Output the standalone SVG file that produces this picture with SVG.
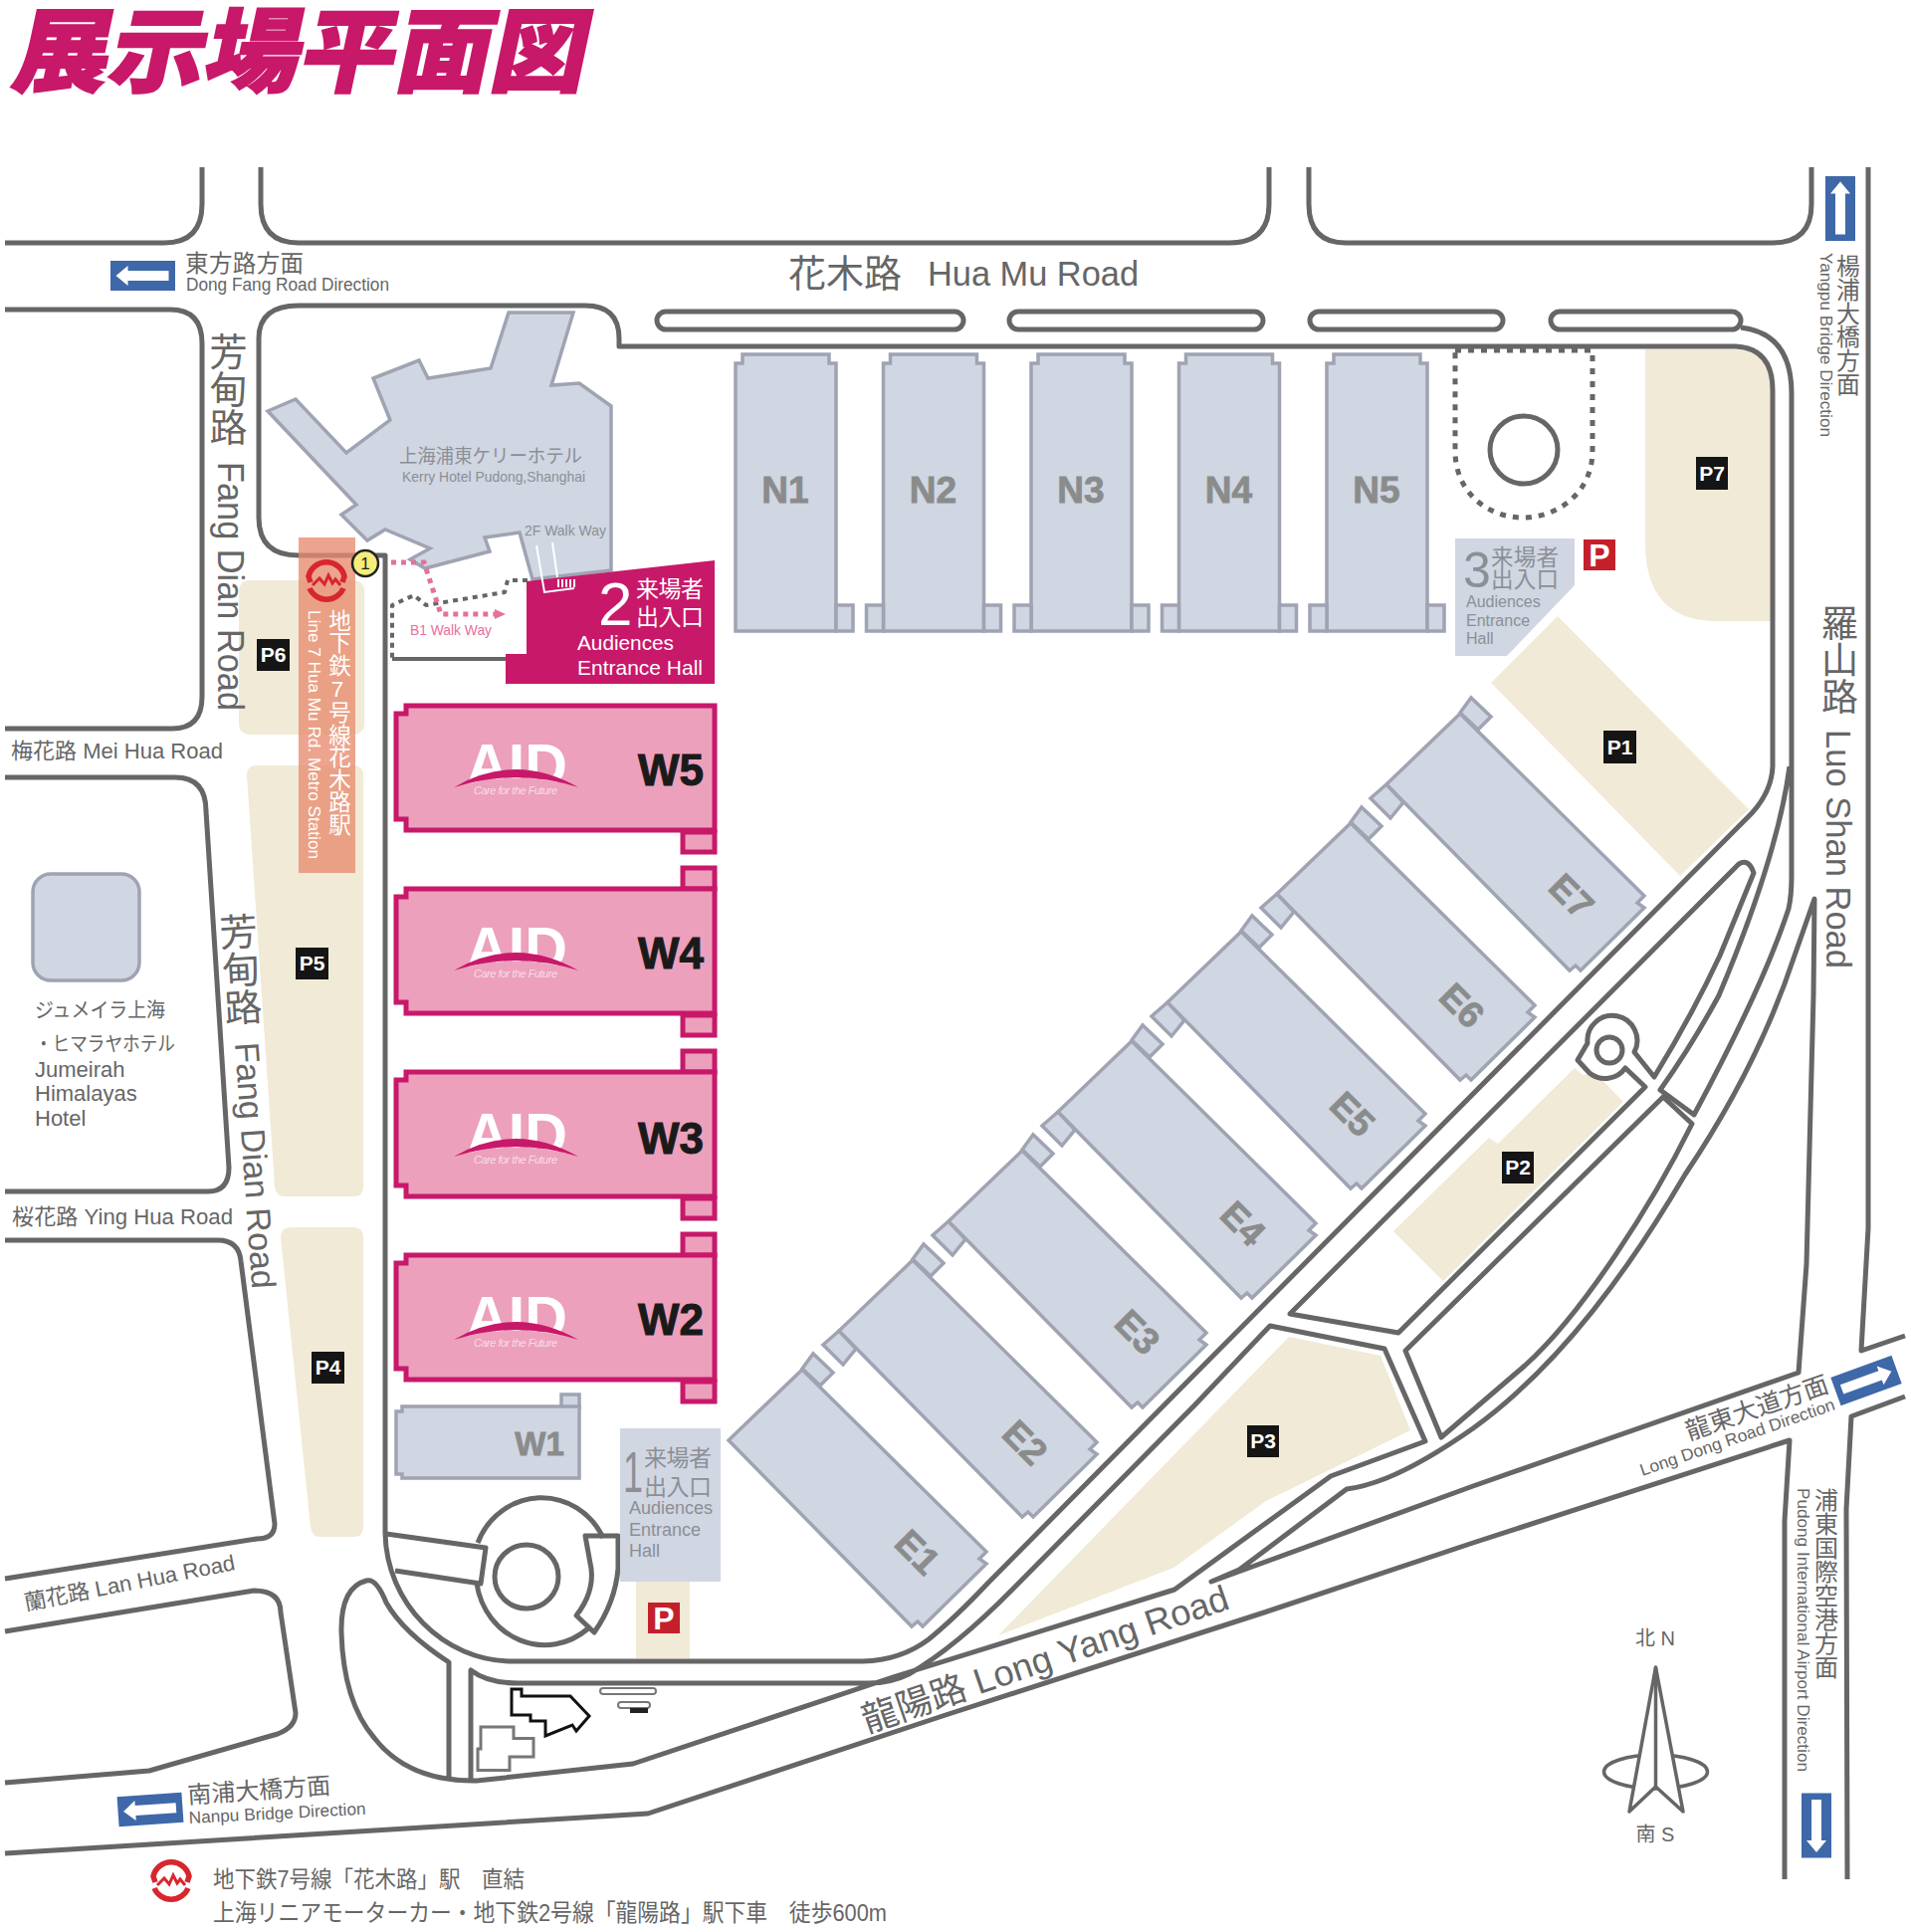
<svg xmlns="http://www.w3.org/2000/svg" width="1920" height="1941" viewBox="0 0 1920 1941">
<style>
text{font-family:"Liberation Sans","Noto Sans CJK JP",sans-serif;fill:#666}
.road{fill:none;stroke:#666;stroke-width:5;stroke-linejoin:round;stroke-linecap:butt}
.park{fill:#f0ead6}
.hall{fill:#d0d6e2;stroke:#9fa3b2;stroke-width:3.5;stroke-linejoin:miter}
.wh{fill:#eca0bc;stroke:#c8186a;stroke-width:5}
.hl{font-weight:700;fill:#8a8c8c;stroke:#8a8c8c;stroke-width:.8;font-size:37px;text-anchor:middle}
.wl{font-weight:700;fill:#1a1a1a;stroke:#1a1a1a;stroke-width:1;font-size:44px;text-anchor:middle}
.pb{fill:#151515}
.pt{fill:#fff;font-weight:700;font-size:21px;text-anchor:middle}
.pr{fill:#c4202c}
.prt{fill:#fff;font-weight:700;font-size:32px;text-anchor:middle}
.v{writing-mode:vertical-rl;text-orientation:upright}
.g{fill:#8c8f96}
.w{fill:#fff}
.blue{fill:#3e68a8}
.logo{fill:none;stroke:#d7262e;stroke-width:5.5;stroke-linejoin:miter}
</style>
<defs>
<path id="e-body" class="hall" d="M1467 717L1652 900L1645 907L1652 912L1588 975L1583 970L1577 975L1393 788Z"/>
<path id="e-tab-top" class="hall" d="M1467 716L1478 701L1498 720L1485 733Z"/>
<path id="e-tab-left" class="hall" d="M1393 788L1377 802L1397 822L1410 806Z"/>
<path id="n-body" class="hall" d="M739 634V365H746V356H833V365H840V634Z"/>
<rect id="n-tab-r" class="hall" x="840" y="608" width="17" height="26"/>
<rect id="n-tab-l" class="hall" x="722" y="608" width="17" height="26"/>
<path id="w-body" class="wh" d="M398 717H408V709H718V834H408V823H398Z"/>
<clipPath id="aidclip"><path d="M450 740H590V791H581Q518 772 456 791H450Z"/></clipPath>
<g id="aid">
<text x="468" y="790" font-size="62" font-weight="700" textLength="102" lengthAdjust="spacingAndGlyphs" clip-path="url(#aidclip)" style="fill:#fff">AID</text>
<path d="M456 791Q518 755 581 791Q518 771 456 791Z" fill="#c8186a"/>
<text x="518" y="798" font-size="11" font-style="italic" text-anchor="middle" textLength="84" style="fill:#f8dce8">Care for the Future</text>
</g>
<g id="arrow"><rect class="blue" x="-32.5" y="-15" width="65" height="30"/><path fill="#fff" d="M-26 -5H15V-10L27 0L15 10V5H-26Z"/></g>
<g id="metro"><path class="logo" d="M-16 1L-18 -5A18.500 18.500 0 0 1 18 -5L16 1M-17 7A18.500 18.500 0 0 0 17 7"/><path fill="none" stroke="#d7262e" stroke-width="3" d="M-14 4L-7 -3L-2 3L2 -6L6 2L9 -2L14 4"/></g>
</defs>

<g id="parking-areas">
<rect class="park" x="240" y="583" width="126" height="155" rx="10"/>
<path class="park" d="M258 769H355Q365 769 365 779V1192Q365 1202 355 1202H286Q277 1202 276 1192L248 779Q248 769 258 769Z"/>
<path class="park" d="M292 1233H355Q365 1233 365 1243V1534Q365 1544 355 1544H322Q313 1544 312 1534L282 1243Q282 1233 292 1233Z"/>
<path class="park" d="M1653 351H1745Q1781 351 1781 390V624H1725Q1653 624 1653 545Z"/>
<path class="park" d="M1565 619L1757 813L1688 880L1498 686Z"/>
<path class="park" d="M1582 1073L1590 1080L1603 1078L1631 1107L1450 1287L1400 1237L1496 1143L1505 1149Z"/>
<path class="park" d="M1295 1343L1387 1362L1417 1437L1272 1508L1179 1575L1003 1643Z"/>
<rect class="park" x="639" y="1589" width="54" height="77"/>
</g>

<g id="roads">
<path class="road" d="M203 168V205Q203 244 165 244H5"/>
<path class="road" d="M262 168V205Q262 244 300 244H1235Q1275 244 1275 205V168"/>
<path class="road" d="M1315 168V205Q1315 244 1352 244H1781Q1820 244 1820 205V168"/>
<rect class="road" x="660" y="313" width="308" height="18" rx="9"/>
<rect class="road" x="1014" y="313" width="255" height="18" rx="9"/>
<rect class="road" x="1316" y="313" width="194" height="18" rx="9"/>
<rect class="road" x="1558" y="313" width="191" height="18" rx="9"/>
<path class="road" d="M622 348H1744Q1781 350 1781 392V770Q1780 795 1760 817L1200 1381L993 1590Q960 1625 933 1647Q905 1668 867 1669H515C445 1669 388 1610 387 1540V558H300Q260 558 260 520V340Q260 307 300 307H588Q622 307 622 340Z"/>
<path class="road" d="M1749 329Q1800 335 1800 395V880Q1800 900 1797 913C1780 965 1745 1040 1702 1120L1668 1095Q1700 1050 1727 1000C1765 910 1790 830 1798 770"/>
<path class="road" d="M1296 1320L1747 868Q1757 862 1762 877L1728 960Q1700 1020 1662 1082L1642 1057A25 25 0 1 0 1595 1048L1585 1065L1597 1078A25 25 0 0 0 1633 1073L1653 1092L1405 1339Z"/>
<circle class="road" cx="1617" cy="1055" r="13"/>
<path class="road" d="M1671 1102L1700 1129C1660 1210 1590 1320 1532 1372L1448 1444L1412 1357Z"/>
<path class="road" d="M1823 903L1803 960C1770 1060 1720 1140 1693 1180C1640 1270 1570 1370 1480 1435Q1430 1470 1393 1485Q1370 1494 1353 1496L1245 1577L1217 1589L1480 1493L1807 1379L1815 1270L1822 1000Z"/>
<path class="road" d="M1877 168V1234L1870 1357L1914 1342"/>
<path class="road" d="M5 1862L651 1822L950 1723L1270 1620L1480 1550L1798 1447L1793 1528V1888"/>
<path class="road" d="M1856 1888L1855 1516L1860 1423L1914 1403"/>
<path class="road" d="M451 1785V1670Q405 1640 388 1610Q378 1585 368 1588Q342 1595 343 1640Q345 1710 376 1746Q410 1790 479 1789L636 1772L897 1685L1180 1597L1337 1483L1432 1448L1391 1355L1276 1332L1200 1412L1017 1597Q960 1655 913 1682Q895 1691 873 1691H521Q490 1691 473 1678V1789"/>
<path class="road" d="M5 311H171Q203 311 203 345V700Q203 732 173 732H5"/>
<path class="road" d="M5 781H176Q207 781 207 815L230 1173Q230 1197 209 1197H5"/>
<path class="road" d="M5 1246H219Q240 1246 242 1267L276 1531Q276 1546 258 1546L5 1586"/>
<path class="road" d="M5 1639L255 1598Q282 1598 282 1620L297 1721Q297 1735 279 1742L150 1779L5 1791"/>
<path class="road" d="M388 1541L488 1555L483 1591L397 1578"/>
<path class="road" d="M480 1550A69 72 0 0 1 606 1545M479 1591A69 73 0 0 0 591 1636"/>
<circle class="road" cx="529" cy="1584" r="32"/>
<path class="road" d="M588 1543H621V1576Q618 1610 597 1640L579 1623Q597 1600 594 1576Z"/>
<path class="road" stroke-dasharray="5 5" style="stroke-width:4" d="M530 583H510L507 595L428 608L416 598L394 608V662"/>
<path class="road" style="stroke-width:4" d="M394 662H508"/>
<path class="road" stroke-dasharray="6 7" d="M1462 352H1600V453C1600 495 1565 520 1530 520C1495 520 1462 495 1462 453Z"/>
<circle class="road" cx="1531" cy="452" r="34"/>
</g>

<g id="hotel-kerry">
<path class="hall" d="M511 314H576L554 387L582 385L614 408V573L535 582L522 535L487 540L492 554L427 571L412 562L432 551L387 532L369 543L343 517L358 507L269 413L297 401L348 455L392 422L375 380L421 362L430 380L493 370Z"/>
<text class="g" x="401" y="465" font-size="19" textLength="184" lengthAdjust="spacingAndGlyphs">上海浦東ケリーホテル</text>
<text class="g" x="404" y="484" font-size="15" textLength="184" lengthAdjust="spacingAndGlyphs">Kerry Hotel Pudong,Shanghai</text>
<text class="g" x="527" y="538" font-size="14.500" textLength="82" lengthAdjust="spacingAndGlyphs">2F Walk Way</text>
</g>

<g id="N1"><use href="#n-body"/><use href="#n-tab-r"/><text class="hl" x="789" y="505">N1</text></g>
<g id="N2"><g transform="translate(148.500 0)"><use href="#n-body"/><use href="#n-tab-r"/><use href="#n-tab-l"/><text class="hl" x="789" y="505">N2</text></g></g>
<g id="N3"><g transform="translate(297 0)"><use href="#n-body"/><use href="#n-tab-r"/><use href="#n-tab-l"/><text class="hl" x="789" y="505">N3</text></g></g>
<g id="N4"><g transform="translate(445.500 0)"><use href="#n-body"/><use href="#n-tab-r"/><use href="#n-tab-l"/><text class="hl" x="789" y="505">N4</text></g></g>
<g id="N5"><g transform="translate(594 0)"><use href="#n-body"/><use href="#n-tab-r"/><use href="#n-tab-l"/><text class="hl" x="789" y="505">N5</text></g></g>

<g id="E7"><use href="#e-tab-top"/><use href="#e-tab-left"/><use href="#e-body"/><text class="hl" x="1579" y="913" transform="rotate(45 1579 900)">E7</text></g>
<g id="E6" transform="translate(-110 110)"><use href="#e-tab-top"/><use href="#e-tab-left"/><use href="#e-body"/><text class="hl" x="1579" y="913" transform="rotate(45 1579 900)">E6</text></g>
<g id="E5" transform="translate(-220 219)"><use href="#e-tab-top"/><use href="#e-tab-left"/><use href="#e-body"/><text class="hl" x="1579" y="913" transform="rotate(45 1579 900)">E5</text></g>
<g id="E4" transform="translate(-330 329)"><use href="#e-tab-top"/><use href="#e-tab-left"/><use href="#e-body"/><text class="hl" x="1579" y="913" transform="rotate(45 1579 900)">E4</text></g>
<g id="E3" transform="translate(-440 439)"><use href="#e-tab-top"/><use href="#e-tab-left"/><use href="#e-body"/><text class="hl" x="1583" y="912" transform="rotate(45 1583 899)">E3</text></g>
<g id="E2" transform="translate(-550 549)"><use href="#e-tab-top"/><use href="#e-tab-left"/><use href="#e-body"/><text class="hl" x="1580" y="913" transform="rotate(45 1580 900)">E2</text></g>
<g id="E1" transform="translate(-661 659)"><use href="#e-tab-top"/><use href="#e-body"/><text class="hl" x="1583" y="913" transform="rotate(45 1583 900)">E1</text></g>

<g id="W5"><rect class="wh" x="686" y="836" width="32" height="20"/><use href="#w-body"/><use href="#aid"/><text class="wl" x="674" y="789">W5</text></g>
<g id="W4" transform="translate(0 184)"><rect class="wh" x="686" y="836" width="32" height="20"/><rect class="wh" x="686" y="688" width="32" height="21"/><use href="#w-body"/><use href="#aid"/><text class="wl" x="674" y="789">W4</text></g>
<g id="W3" transform="translate(0 368)"><rect class="wh" x="686" y="836" width="32" height="20"/><rect class="wh" x="686" y="688" width="32" height="21"/><use href="#w-body"/><use href="#aid" y="3"/><text class="wl" x="674" y="791">W3</text></g>
<g id="W2" transform="translate(0 552)"><rect class="wh" x="686" y="836" width="32" height="20"/><rect class="wh" x="686" y="688" width="32" height="21"/><use href="#w-body"/><use href="#aid" y="3"/><text class="wl" x="674" y="789">W2</text></g>
<g id="W1"><rect class="hall" x="564" y="1401" width="18" height="14"/><path class="hall" d="M398 1418H404V1413H582V1485H404V1481H398Z"/><text class="hl" x="542" y="1462" style="font-size:33px">W1</text></g>

<g id="jumeirah">
<rect class="hall" x="33" y="878" width="107" height="107" rx="18"/>
<text x="35" y="1022" font-size="20.500" textLength="131" lengthAdjust="spacingAndGlyphs">ジュメイラ上海</text>
<text x="35" y="1056" font-size="20.500" textLength="141" lengthAdjust="spacingAndGlyphs">・ヒマラヤホテル</text>
<text x="35" y="1082" font-size="22">Jumeirah</text>
<text x="35" y="1106" font-size="22">Himalayas</text>
<text x="35" y="1131" font-size="22">Hotel</text>
</g>

<g id="entrance-1">
<rect x="623" y="1435" width="101" height="154" fill="#d0d6e2"/>
<text class="g" x="626" y="1499" font-size="58" textLength="20" lengthAdjust="spacingAndGlyphs">1</text>
<text class="g" x="647" y="1473" font-size="23" textLength="68">来場者</text>
<text class="g" x="647" y="1502" font-size="23" textLength="68">出入口</text>
<text class="g" x="632" y="1521" font-size="18">Audiences</text>
<text class="g" x="632" y="1543" font-size="18">Entrance</text>
<text class="g" x="632" y="1564" font-size="18">Hall</text>
</g>
<g id="entrance-2">
<path d="M529 584L718 563V687H508V657H529Z" fill="#c8186a"/>
<g fill="none" stroke="#fff" stroke-width="2"><path d="M539 548L547 595L577 591M555 545L560 580"/><path d="M561 590V582M565 590V582M569 590V582M573 590V582M577 590V582"/></g>
<text class="w" x="601" y="628" font-size="62">2</text>
<text class="w" x="639" y="600" font-size="23" textLength="68">来場者</text>
<text class="w" x="639" y="628" font-size="23" textLength="68">出入口</text>
<text class="w" x="580" y="653" font-size="21" textLength="97" lengthAdjust="spacingAndGlyphs">Audiences</text>
<text class="w" x="580" y="678" font-size="21" textLength="126" lengthAdjust="spacingAndGlyphs">Entrance Hall</text>
</g>
<g id="entrance-3">
<path d="M1462 541H1582V588L1514 659H1462Z" fill="#d0d6e2"/>
<text class="g" x="1470" y="590" font-size="50">3</text>
<text class="g" x="1498" y="568" font-size="22.500" textLength="68">来場者</text>
<text class="g" x="1498" y="590" font-size="22.500" textLength="68">出入口</text>
<text class="g" x="1473" y="610" font-size="16">Audiences</text>
<text class="g" x="1473" y="629" font-size="16">Entrance</text>
<text class="g" x="1473" y="647" font-size="16">Hall</text>
</g>

<g id="walkway-b1">
<path d="M393 565H426L443 617H497" fill="none" stroke="#e76f9d" stroke-width="5" stroke-dasharray="5 5"/>
<path d="M497 612L508 617L497 622Z" fill="#e76f9d"/>
<text x="412" y="638" font-size="14.500" textLength="82" lengthAdjust="spacingAndGlyphs" style="fill:#e76f9d">B1 Walk Way</text>
</g>

<g id="metro-station">
<rect x="300" y="540" width="57" height="337" fill="#e88a6e" opacity=".78"/>
<use href="#metro" transform="translate(328 584)"/>
<text class="v w" x="339" y="612" font-size="22.500">地下鉄7号線花木路駅</text>
<text class="w" transform="translate(310 613) rotate(90)" font-size="16.500" textLength="250" lengthAdjust="spacingAndGlyphs">Line 7 Hua Mu Rd. Metro Station</text>
</g>
<g id="exit-1">
<circle cx="367" cy="566" r="13" fill="#f5ee7a" stroke="#222" stroke-width="2.500"/>
<text x="367" y="572" font-size="17" text-anchor="middle" style="fill:#222">1</text>
</g>

<g id="P6"><rect class="pb" x="258" y="642" width="33" height="32"/><text class="pt" x="274.500" y="665">P6</text></g>
<g id="P5"><rect class="pb" x="297" y="952" width="33" height="32"/><text class="pt" x="313.500" y="975">P5</text></g>
<g id="P4"><rect class="pb" x="313" y="1358" width="33" height="32"/><text class="pt" x="329.500" y="1381">P4</text></g>
<g id="P7"><rect class="pb" x="1704" y="459" width="32" height="33"/><text class="pt" x="1720" y="483">P7</text></g>
<g id="P1"><rect class="pb" x="1611" y="734" width="33" height="33"/><text class="pt" x="1627.500" y="758">P1</text></g>
<g id="P2"><rect class="pb" x="1509" y="1157" width="32" height="32"/><text class="pt" x="1525" y="1180">P2</text></g>
<g id="P3"><rect class="pb" x="1253" y="1432" width="32" height="32"/><text class="pt" x="1269" y="1455">P3</text></g>
<g id="P-red-north"><rect class="pr" x="1591" y="542" width="32" height="31"/><text class="prt" x="1607" y="569">P</text></g>
<g id="P-red-south"><rect class="pr" x="651" y="1610" width="32" height="31"/><text class="prt" x="667" y="1637">P</text></g>

<g id="small-buildings">
<path d="M514 1697H524V1704H573L592 1724L579 1739L575 1733L548 1744V1729H533V1723H514Z" fill="#fff" stroke="#111" stroke-width="3"/>
<path d="M483 1735H516V1746.500H536V1765H512V1778.600H480V1757H483Z" fill="#fff" stroke="#777" stroke-width="3"/>
<rect x="603" y="1696" width="56" height="6" rx="3" fill="#fff" stroke="#777" stroke-width="2"/>
<rect x="621" y="1710" width="32" height="6" rx="3" fill="#fff" stroke="#777" stroke-width="2"/>
<rect x="633" y="1716" width="18" height="5" fill="#222"/>
</g>

<g id="compass">
<ellipse cx="1663.500" cy="1780" rx="52" ry="17" fill="none" stroke="#666" stroke-width="3.500"/>
<path d="M1663.500 1675L1691 1820L1663.500 1795L1637 1820Z" fill="#fff" stroke="#666" stroke-width="3.500" stroke-linejoin="round"/>
<path d="M1663.500 1675V1795" stroke="#666" stroke-width="3.500"/>
<text x="1663" y="1653" font-size="20" text-anchor="middle">北 N</text>
<text x="1663" y="1850" font-size="20" text-anchor="middle">南 S</text>
</g>

<g id="labels">
<text transform="translate(10 85) skewX(-12)" font-size="92" font-weight="900" textLength="576" lengthAdjust="spacingAndGlyphs" style="fill:#c8186a;stroke:#c8186a;stroke-width:2">展示場平面図</text>
<use href="#arrow" transform="translate(143.500 277) rotate(180)"/>
<text x="186" y="273" font-size="23.500" textLength="119">東方路方面</text>
<text x="187" y="292" font-size="17.500" textLength="204" lengthAdjust="spacingAndGlyphs">Dong Fang Road Direction</text>
<text x="792" y="288" font-size="38" textLength="114">花木路</text>
<text x="932" y="287" font-size="35" textLength="212" lengthAdjust="spacingAndGlyphs">Hua Mu Road</text>
<text class="v" x="226" y="334" font-size="38">芳甸路</text>
<text transform="translate(219 464) rotate(90)" font-size="36" textLength="250" lengthAdjust="spacingAndGlyphs">Fang Dian Road</text>
<text class="v" transform="translate(235 917) rotate(-3.500)" font-size="38">芳甸路</text>
<text transform="translate(236 1048) rotate(86)" font-size="34" textLength="248" lengthAdjust="spacingAndGlyphs">Fang Dian Road</text>
<text x="11" y="762" font-size="22" textLength="213" lengthAdjust="spacingAndGlyphs">梅花路 Mei Hua Road</text>
<text x="12" y="1230" font-size="22" textLength="222" lengthAdjust="spacingAndGlyphs">桜花路 Ying Hua Road</text>
<text transform="translate(26 1618) rotate(-11)" font-size="22" textLength="215" lengthAdjust="spacingAndGlyphs">蘭花路 Lan Hua Road</text>
<use href="#arrow" transform="translate(151 1818) rotate(176)"/>
<text transform="translate(189 1812) rotate(-4)" font-size="24" textLength="144">南浦大橋方面</text>
<text transform="translate(190 1832) rotate(-3)" font-size="17" textLength="178" lengthAdjust="spacingAndGlyphs">Nanpu Bridge Direction</text>
<text transform="translate(871 1741) rotate(-18.900)" font-size="36" textLength="387" lengthAdjust="spacingAndGlyphs">龍陽路 Long Yang Road</text>
<use href="#arrow" transform="translate(1849 209.500) rotate(-90)"/>
<text class="v" x="1855" y="255" font-size="23.800">楊浦大橋方面</text>
<text transform="translate(1829 254) rotate(90)" font-size="16.500" textLength="185" lengthAdjust="spacingAndGlyphs">Yangpu Bridge Direction</text>
<text class="v" x="1845" y="607" font-size="37">羅山路</text>
<text transform="translate(1835 733) rotate(90)" font-size="35" textLength="240" lengthAdjust="spacingAndGlyphs">Luo Shan Road</text>
<use href="#arrow" transform="translate(1875 1387) rotate(-20)"/>
<text transform="translate(1697 1447) rotate(-19)" font-size="25" textLength="150">龍東大道方面</text>
<text transform="translate(1650 1483) rotate(-19)" font-size="17" textLength="206" lengthAdjust="spacingAndGlyphs">Long Dong Road Direction</text>
<use href="#arrow" transform="translate(1825 1834) rotate(90)"/>
<text class="v" x="1833" y="1495" font-size="24">浦東国際空港方面</text>
<text transform="translate(1806 1495) rotate(90)" font-size="16.500" textLength="285" lengthAdjust="spacingAndGlyphs">Pudong International Airport Direction</text>
<use href="#metro" transform="translate(172 1890)"/>
<text x="214" y="1896" font-size="23" textLength="313" lengthAdjust="spacingAndGlyphs">地下鉄7号線「花木路」駅　直結</text>
<text x="214" y="1930" font-size="24" textLength="677" lengthAdjust="spacingAndGlyphs">上海リニアモーターカー・地下鉄2号線「龍陽路」駅下車　徒歩600m</text>
</g>
</svg>
